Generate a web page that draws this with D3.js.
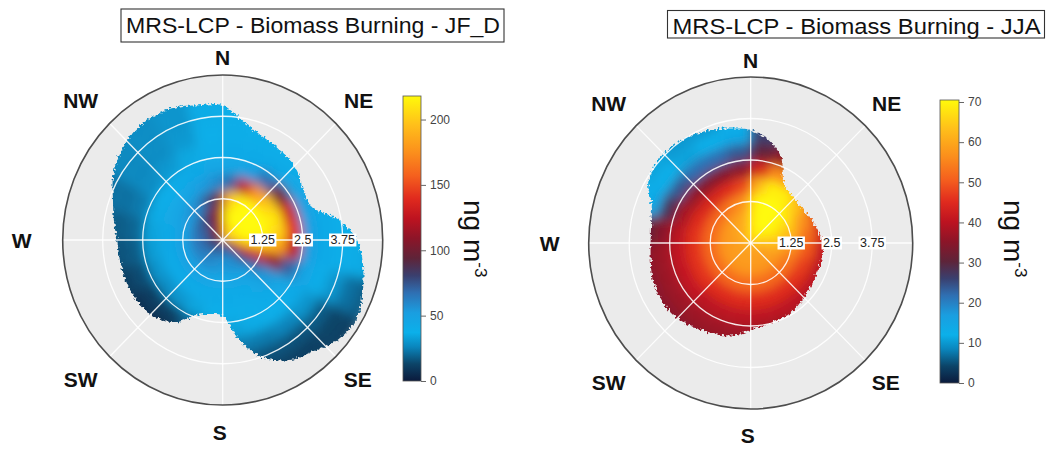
<!DOCTYPE html>
<html>
<head>
<meta charset="utf-8">
<script src="https://cdn.jsdelivr.net/npm/d3@7"></script>
<style>
  body { margin: 0; background: #fff; }
  svg { display: block; }
  text { font-family: "Liberation Sans", Arial, sans-serif; }
</style>
</head>
<body>
<svg id="chart" width="1049" height="451"></svg>
<script>
// ---- surface grid: 15-degree sectors (start angle, clockwise from N) x 0.5 wind-speed rings ----
const sectorStarts = [0, 15, 30, 45, 60, 75, 90, 105, 120, 135, 150, 165,
                      180, 195, 210, 225, 240, 255, 270, 285, 300, 315, 330, 345];
const ringEdges = [0, 0.5, 1, 1.5, 2, 2.5, 3, 3.5, 4, 4.5, 5];

// JF_D concentrations (ng m-3), one row per sector, one value per ring
const jfdValues = [
  [190, 214, 190,  70,  45,  42,  40,  40,  40,  40],
  [202, 218, 214, 125,  50,  42,  40,  40,  40,  40],
  [208, 218, 218, 178,  68,  43,  40,  40,  40,  40],
  [208, 218, 218, 200, 100,  45,  40,  40,  40,  40],
  [208, 218, 218, 210, 130,  48,  42,  40,  40,  40],
  [204, 218, 216, 205, 140,  50,  42,  40,  40,  40],
  [185, 205, 200, 185, 125,  50,  42,  40,  36,  34],
  [130, 140, 130, 110,  70,  46,  40,  30,  22,  18],
  [ 90,  85,  70,  55,  45,  42,  30,  18,  13,  12],
  [ 75,  62,  50,  45,  42,  38,  26,  16,  12,  12],
  [ 70,  58,  47,  42,  40,  36,  24,  16,  12,  12],
  [ 70,  55,  45,  42,  40,  34,  24,  16,  14,  14],
  [ 70,  55,  45,  42,  38,  30,  22,  18,  15,  15],
  [ 72,  58,  46,  42,  34,  18,  10,   8,   8,   8],
  [ 75,  60,  48,  42,  30,  12,   6,   5,   5,   5],
  [ 78,  62,  50,  42,  28,  12,   7,   6,   6,   6],
  [ 80,  64,  50,  42,  30,  15,  12,  11,  11,  11],
  [ 82,  66,  50,  43,  32,  18,  16,  16,  16,  16],
  [ 85,  68,  50,  43,  34,  20,  18,  18,  18,  18],
  [ 88,  70,  52,  44,  36,  24,  22,  22,  22,  22],
  [ 95,  74,  55,  45,  38,  28,  27,  27,  27,  27],
  [105,  82,  60,  47,  41,  31,  28,  28,  28,  28],
  [115, 100,  75,  52,  43,  35,  31,  30,  30,  30],
  [125, 118,  95,  58,  45,  40,  38,  36,  36,  36]
];

// JJA concentrations (ng m-3)
const jjaValues = [
  [69, 70.5, 70, 62, 44, 31, 26, 25, 24, 24],
  [70, 70.5, 70.5, 69, 56, 36, 28, 26, 25, 25],
  [70, 70.5, 70.5, 69, 58, 38, 30, 28, 28, 28],
  [68, 70.5, 69, 64, 52, 38, 32, 30, 30, 30],
  [66, 68, 65, 57, 46, 36, 32, 30, 30, 30],
  [64, 65, 61, 53, 43, 35, 32, 30, 30, 30],
  [62, 62, 57, 50, 41, 35, 32, 30, 30, 30],
  [60, 59, 54, 47, 40, 35, 33, 31, 30, 30],
  [59, 58, 53, 46, 40, 36, 34, 32, 30, 30],
  [59, 58, 52, 45, 40, 36, 34, 32, 30, 30],
  [59, 58, 52, 45, 40, 36, 34, 32, 30, 30],
  [59, 58, 52, 45, 40, 36, 34, 32, 30, 30],
  [59, 58, 52, 45, 40, 37, 35, 32, 30, 30],
  [59, 58, 52, 45, 40, 37, 35, 32, 30, 30],
  [59, 58, 52, 45, 40, 37, 35, 32, 30, 30],
  [59, 58, 52, 46, 41, 37, 35, 32, 30, 30],
  [59, 58, 52, 46, 41, 37, 35, 32, 30, 30],
  [59, 58, 52, 46, 41, 37, 35, 32, 30, 30],
  [59, 58, 52, 46, 40, 35, 31, 27, 25, 25],
  [60, 58, 52, 45, 38, 28, 14, 12, 12, 12],
  [61, 59, 52, 44, 36, 24, 12, 11, 11, 11],
  [61, 59, 53, 44, 34, 22, 11, 10, 10, 10],
  [62, 60, 55, 45, 34, 22, 12, 10, 10, 10],
  [64, 62, 58, 48, 35, 24, 14, 12, 12, 12]
];

// outer extent of each surface (wind speed reached), every 10 degrees
const boundaryAngles = [0, 10, 20, 30, 40, 50, 60, 70, 80, 90, 100, 110,
                        120, 130, 140, 150, 160, 170, 180, 190, 200, 210, 220, 230,
                        240, 250, 260, 270, 280, 290, 300, 310, 320, 330, 340, 350];
const jfdBoundary = [4.08, 3.65, 3.40, 3.28, 3.22, 3.10, 2.92, 2.95, 3.65, 4.20, 4.45, 4.65,
                     4.82, 4.70, 4.40, 4.20, 3.80, 3.10, 2.30, 2.28, 2.42, 2.88, 3.12, 3.22,
                     3.26, 3.27, 3.27, 3.30, 3.45, 3.65, 3.95, 4.15, 4.30, 4.33, 4.28, 4.15];
const jjaBoundary = [3.40, 3.15, 2.75, 2.05, 1.92, 1.90, 1.92, 2.00, 2.12, 2.22, 2.25, 2.23,
                     2.24, 2.28, 2.36, 2.44, 2.47, 2.52, 2.62, 2.82, 2.93, 3.03, 3.15, 3.24,
                     3.24, 3.22, 3.13, 3.09, 3.12, 3.25, 3.65, 3.79, 3.79, 3.72, 3.62, 3.50];

// axis annotations
const speedRings = [1.25, 2.5, 3.75];
const speedLabels = ["1.25", "2.5", "3.75"];
const spokeAngles = [0, 45, 90, 135, 180, 225, 270, 315];
const compassLabels = ["N", "NE", "SE", "S", "SW", "W", "NW"];
const jfdTicks = [0, 50, 100, 150, 200];
const jjaTicks = [0, 10, 20, 30, 40, 50, 60, 70];
const titles = ["MRS-LCP - Biomass Burning - JF_D", "MRS-LCP - Biomass Burning - JJA"];

// colour ramp (fraction of the scale maximum -> colour)
const paletteStops = [0, 0.06, 0.12, 0.17, 0.24, 0.31, 0.37, 0.43, 0.50, 0.57, 0.64, 0.72, 0.80, 0.90, 1.0];
const paletteColours = ["#0b1a3c", "#0c4468", "#0a86bd", "#0bb0ea", "#1a9ee0", "#2f6fb2", "#3a3f6e",
                        "#5e2439", "#8c1528", "#bd1320", "#e02a1e", "#f5601e", "#fb8e1c", "#ffc01a", "#fffa0a"];

const svg = d3.select("#chart");
const defs = svg.append("defs");

// label placement around each rose, in pixels from its centre
const compassOffsets = {
  N: [0, -183], NE: [136, -140], SE: [135, 139], S: [-3, 192],
  SW: [-142, 139], W: [-201, 0], NW: [-142, -140]
};

function drawPanel(cfg) {
  const g = svg.append("g");
  const rX = d3.scaleLinear().domain([0, 5]).range([0, cfg.rx]);
  const rY = d3.scaleLinear().domain([0, 5]).range([0, cfg.ry]);
  const ang = d3.scaleLinear().domain([0, 360]).range([0, 2 * Math.PI]);
  const px = (deg, r) => cfg.cx + rX(r) * Math.sin(ang(deg));
  const py = (deg, r) => cfg.cy - rY(r) * Math.cos(ang(deg));
  const colour = d3.scaleLinear()
    .domain(paletteStops.map(t => t * cfg.max))
    .range(paletteColours)
    .clamp(true);

  // panel background
  g.append("ellipse")
    .attr("cx", cfg.cx).attr("cy", cfg.cy)
    .attr("rx", rX(5)).attr("ry", rY(5))
    .attr("fill", "#ebebeb");

  const region = { x: cfg.cx - 200, y: cfg.cy - 200, width: 400, height: 400 };

  // smoothing of the gridded surface
  const blur = defs.append("filter").attr("id", cfg.id + "-smooth")
    .attr("filterUnits", "userSpaceOnUse")
    .attr("x", region.x).attr("y", region.y).attr("width", region.width).attr("height", region.height);
  blur.append("feGaussianBlur").attr("stdDeviation", 5.5);

  // ragged outline of the surface extent
  const rough = defs.append("filter").attr("id", cfg.id + "-rough")
    .attr("filterUnits", "userSpaceOnUse")
    .attr("x", region.x).attr("y", region.y).attr("width", region.width).attr("height", region.height);
  rough.append("feTurbulence").attr("type", "fractalNoise")
    .attr("baseFrequency", "0.45").attr("numOctaves", 1).attr("seed", 3).attr("result", "noise");
  rough.append("feDisplacementMap").attr("in", "SourceGraphic").attr("in2", "noise")
    .attr("scale", 7).attr("xChannelSelector", "R").attr("yChannelSelector", "G");

  const outline = d3.line().curve(d3.curveCatmullRomClosed.alpha(0.5));
  const mask = defs.append("mask").attr("id", cfg.id + "-extent")
    .attr("maskUnits", "userSpaceOnUse")
    .attr("x", region.x).attr("y", region.y).attr("width", region.width).attr("height", region.height);
  mask.append("path")
    .attr("d", outline(boundaryAngles.map((a, i) => [px(a, cfg.boundary[i]), py(a, cfg.boundary[i])])))
    .attr("fill", "#fff")
    .attr("filter", `url(#${cfg.id}-rough)`);

  const surface = g.append("g").attr("mask", `url(#${cfg.id}-extent)`)
    .append("g").attr("filter", `url(#${cfg.id}-smooth)`);

  const cellLine = d3.line();
  const cells = [];
  sectorStarts.forEach((a0, j) => {
    const a1 = a0 + 15;
    ringEdges.slice(0, -1).forEach((r0, k) => {
      cells.push({ a0, a1, r0, r1: ringEdges[k + 1], v: cfg.values[j][k] });
    });
  });
  surface.selectAll("path.cell").data(cells).join("path")
    .attr("class", "cell")
    .attr("d", c => {
      const pts = [];
      for (let s = 0; s <= 6; s++) { const a = c.a0 + (c.a1 - c.a0) * s / 6; pts.push([px(a, c.r1), py(a, c.r1)]); }
      for (let s = 6; s >= 0; s--) { const a = c.a0 + (c.a1 - c.a0) * s / 6; pts.push([px(a, c.r0), py(a, c.r0)]); }
      return cellLine(pts) + "Z";
    })
    .attr("fill", c => colour(c.v))
    .attr("stroke", c => colour(c.v))
    .attr("stroke-width", 0.8);

  // grid
  const grid = g.append("g").attr("stroke", "#fff").attr("stroke-opacity", 0.9)
    .attr("stroke-width", 1.3).attr("fill", "none");
  grid.selectAll("ellipse").data(speedRings).join("ellipse")
    .attr("cx", cfg.cx).attr("cy", cfg.cy)
    .attr("rx", d => rX(d)).attr("ry", d => rY(d));
  grid.selectAll("line").data(spokeAngles).join("line")
    .attr("x1", cfg.cx).attr("y1", cfg.cy)
    .attr("x2", d => px(d, 5)).attr("y2", d => py(d, 5));

  g.append("ellipse")
    .attr("cx", cfg.cx).attr("cy", cfg.cy)
    .attr("rx", rX(5)).attr("ry", rY(5))
    .attr("fill", "none").attr("stroke", "#4d4d4d").attr("stroke-width", 1.6);

  // wind-speed labels on the east spoke
  const sl = g.append("g");
  speedRings.forEach((r, i) => {
    const t = sl.append("text")
      .attr("x", px(90, r)).attr("y", cfg.cy)
      .attr("text-anchor", "middle").attr("dominant-baseline", "central")
      .attr("font-size", 12.5).attr("fill", "#222")
      .text(speedLabels[i]);
    const b = t.node().getBBox();
    sl.insert("rect", "text")
      .attr("x", b.x - 1.5).attr("y", b.y + 0.5)
      .attr("width", b.width + 3).attr("height", b.height - 1)
      .attr("fill", "#fff");
  });

  // compass labels
  g.selectAll("text.compass").data(compassLabels).join("text")
    .attr("class", "compass")
    .attr("x", d => cfg.cx + compassOffsets[d][0])
    .attr("y", d => cfg.cy + compassOffsets[d][1])
    .attr("text-anchor", "middle").attr("dominant-baseline", "central")
    .attr("font-weight", "bold").attr("font-size", 21).attr("fill", "#111")
    .text(d => d);

  // title box
  g.append("rect")
    .attr("x", cfg.title.x).attr("y", cfg.title.y)
    .attr("width", cfg.title.w).attr("height", cfg.title.h)
    .attr("fill", "#fff").attr("stroke", "#333").attr("stroke-width", 1.1);
  g.append("text")
    .attr("x", cfg.title.x + 5).attr("y", cfg.title.base)
    .attr("font-size", 22).attr("fill", "#111")
    .attr("textLength", cfg.title.w - 9).attr("lengthAdjust", "spacingAndGlyphs")
    .text(cfg.titleText);

  // colour key
  const key = cfg.key;
  const grad = defs.append("linearGradient").attr("id", cfg.id + "-ramp")
    .attr("x1", 0).attr("y1", 1).attr("x2", 0).attr("y2", 0);
  grad.selectAll("stop").data(paletteStops).join("stop")
    .attr("offset", d => d).attr("stop-color", (d, i) => paletteColours[i]);
  const ky = d3.scaleLinear().domain([0, cfg.max]).range([key.y + key.h, key.y]);
  g.append("rect")
    .attr("x", key.x).attr("y", key.y).attr("width", key.w).attr("height", key.h)
    .attr("fill", `url(#${cfg.id}-ramp)`).attr("stroke", "#555").attr("stroke-width", 0.8);
  const axis = g.append("g")
    .attr("transform", `translate(${key.x + key.w},0)`)
    .call(d3.axisRight(ky).tickValues(cfg.ticks).tickSize(5).tickPadding(4).tickFormat(d3.format("d")));
  axis.select(".domain").remove();
  axis.selectAll("line").attr("stroke", "#666");
  axis.selectAll("text").attr("fill", "#444").attr("font-size", 12)
    .attr("font-family", '"Liberation Sans", Arial, sans-serif');

  // units
  const unit = g.append("text")
    .attr("transform", `translate(${key.unitX},${key.unitY}) rotate(90)`)
    .attr("font-size", 28).attr("fill", "#111");
  unit.append("tspan").text("ng m");
  unit.append("tspan").attr("font-size", 17).attr("dy", -11).text("-3");
}

drawPanel({
  id: "jfd", cx: 222.7, cy: 240, rx: 160, ry: 165, max: 218,
  values: jfdValues, boundary: jfdBoundary, ticks: jfdTicks, titleText: titles[0],
  title: { x: 121, y: 9, w: 383, h: 33, base: 33 },
  key: { x: 403, y: 96, w: 18, h: 285, unitX: 464, unitY: 200 }
});
drawPanel({
  id: "jja", cx: 750.7, cy: 243, rx: 162, ry: 166, max: 70.5,
  values: jjaValues, boundary: jjaBoundary, ticks: jjaTicks, titleText: titles[1],
  title: { x: 667.5, y: 10.5, w: 377, h: 27.5, base: 33.5 },
  key: { x: 940, y: 100, w: 19, h: 283, unitX: 1004, unitY: 200 }
});
</script>
</body>
</html>
